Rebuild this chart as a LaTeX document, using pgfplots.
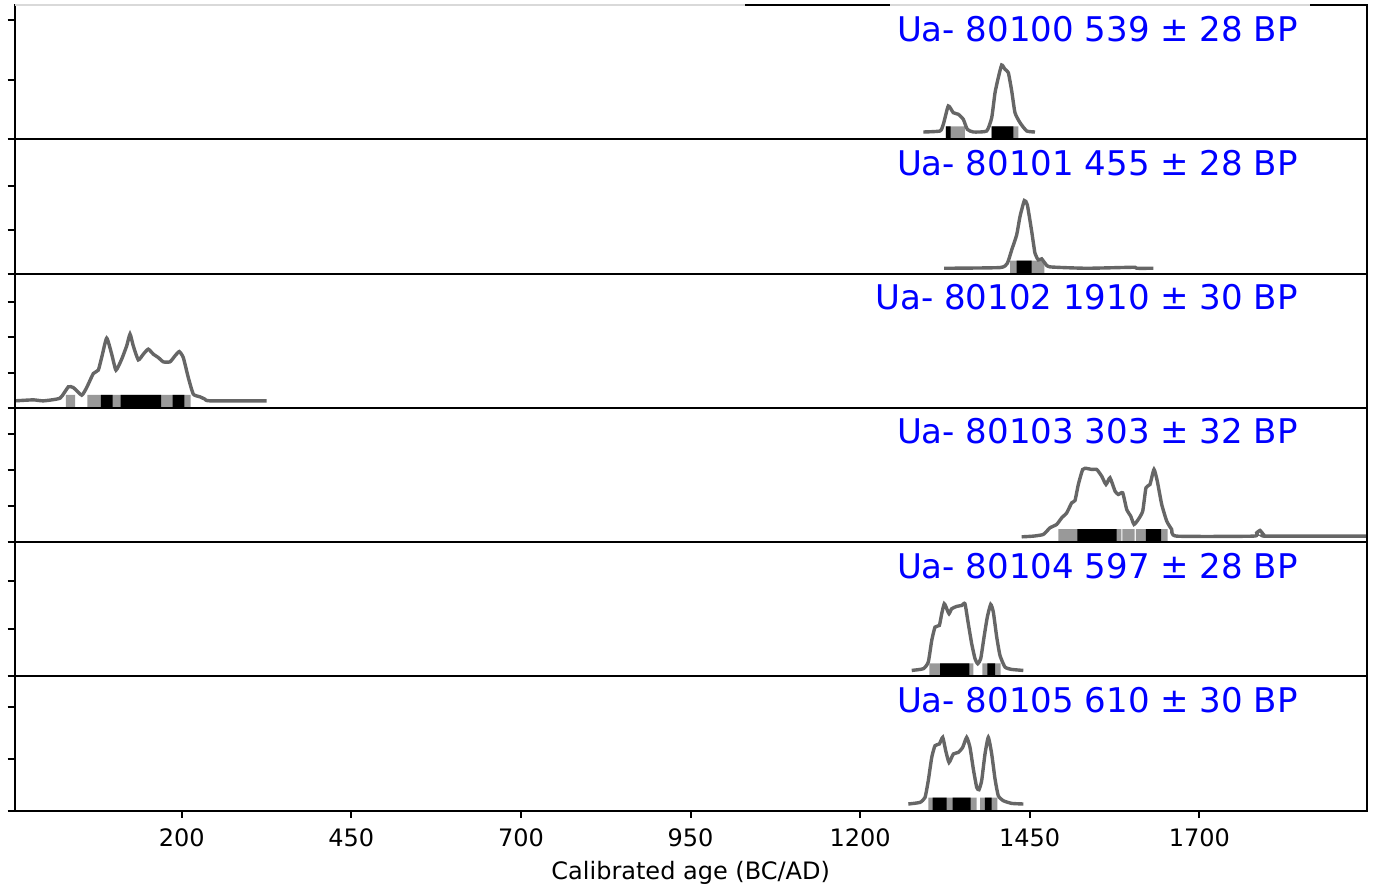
\documentclass[border=0pt]{standalone}
\usepackage{fontspec}
\setmainfont{DejaVu Sans}
\usepackage{pgfplots}
\pgfplotsset{compat=1.18}
\usepgfplotslibrary{groupplots}

\definecolor{curve}{gray}{0.4}
\definecolor{hpd}{gray}{0.6}

% heights are in px of the panel (panel = 134.3 units tall)
\pgfplotsset{
  dens/.style={color=curve, line width=1.7pt, smooth, tension=0.3},
  hpdlight/.style={const plot, fill=hpd, draw=none},
  hpddark/.style={const plot, fill=black, draw=none},
}
\tikzset{
  lab/.style={anchor=base east, inner sep=0pt, xshift=-34.3pt, yshift=-18pt, text=blue,
    font=\fontsize{17}{20}\selectfont},
}

\begin{document}
\begin{tikzpicture}
\begin{groupplot}[
  group style={group size=1 by 6, vertical sep=0pt, group name=g},
  scale only axis, width=676pt, height=67.14pt,
  xmin=-46.2, xmax=1946.8, ymin=0, ymax=134.3,
  xtick=\empty, yticklabels={},
  tick pos=left, tick align=outside, major tick length=3.5pt,
  every tick/.style={line width=1pt, black},
  axis line style={line width=1pt},
  axis on top,
  ticklabel style={font=\fontsize{12}{14}\selectfont},
  xticklabel style={yshift=-2.2pt},
  /pgf/number format/assume math mode=true,
  /pgf/number format/1000 sep={},
  label style={font=\fontsize{12}{14}\selectfont},
]

\nextgroupplot[ytick={0,59.5,119}]
\addplot[hpdlight] coordinates {(1326.6,13) (1354.6,0) (1394,13) (1433.2,0)} \closedcycle;
\addplot[hpddark] coordinates {(1326.6,13) (1333.6,0) (1394,13) (1425.8,0)} \closedcycle;
\addplot[dens] coordinates {
  (1293.2,7.3) (1317.8,8.3) (1322.7,15) (1330.0,33.3) (1337.4,26.6) (1344.8,25)
  (1352.1,20) (1358.0,10) (1366.9,7.3) (1386.6,8.3) (1394.0,21.6) (1398.9,46.6)
  (1403.7,61.6) (1408.7,74.3) (1413.6,70) (1418.5,66.6) (1423.5,48.3) (1428.3,26.6)
  (1435.7,16.6) (1445.6,8.3) (1457.8,7.3)};
\node[lab] at (rel axis cs:1,1) {Ua- 80100 539 ± 28 BP};

\nextgroupplot[ytick={0,44,88}]
\addplot[hpdlight] coordinates {(1421,13) (1471.5,0)} \closedcycle;
\addplot[hpddark] coordinates {(1430.8,13) (1453,0)} \closedcycle;
\addplot[dens] coordinates {
  (1323.7,5.3) (1406.2,6) (1417.0,10.3) (1423.5,23.7) (1430.8,38.7) (1435.7,57)
  (1442.1,73) (1446.5,68.7) (1453.0,42) (1457.8,20.3) (1462.7,13.7) (1467.7,14.7)
  (1472.6,10.3) (1479.9,6.7) (1534.0,5.3) (1602.7,6.3) (1607.7,5.3) (1632.2,5.3)};
\node[lab] at (rel axis cs:1,1) {Ua- 80101 455 ± 28 BP};

\nextgroupplot[ytick={0,35.3,70.6,105.9}]
\addplot[hpdlight] coordinates {(29.4,13) (42.7,0) (60.8,13) (213.2,0)} \closedcycle;
\addplot[hpddark] coordinates {(81,13) (98.3,0) (110.1,13) (169.5,0) (186.7,13) (203.8,0)} \closedcycle;
\addplot[dens] coordinates {
  (-45.8,7) (-18.8,8) (-4,7) (20.6,9.7) (32.8,21) (40.2,20.3) (52.6,12.7) (59.9,20.3)
  (69.7,34.3) (77,37.7) (82,50.3) (89.4,69.7) (96.8,53.7) (103.1,37.7) (111.5,48.7)
  (118.9,62) (123.8,73.7) (128.6,62) (136,48) (143.4,53.7) (150.7,58.7) (158.1,53.7)
  (165.5,50.3) (172.9,46) (182.7,46) (190.1,52) (196.4,56.3) (202.3,50.3) (209.7,30.3)
  (217.1,13.7) (227,11) (234.3,8.7) (241.7,7) (325.3,7)};
\node[lab] at (rel axis cs:1,1) {Ua- 80102 1910 ± 30 BP};

\nextgroupplot[ytick={0,36,72,108}]
\addplot[hpdlight] coordinates {(1492.2,13) (1585,0) (1586.5,13) (1604.5,0) (1606.5,13) (1653.4,0)} \closedcycle;
\addplot[hpddark] coordinates {(1520.2,13) (1578.3,0) (1621.4,13) (1643.6,0)} \closedcycle;
\addplot[dens] coordinates {
  (1438.2,5.3) (1455.3,6) (1470.1,7.7) (1479.9,14.3) (1489.8,17.7) (1497.2,24.3)
  (1504.6,29.3) (1511.9,39.3) (1516.8,41.7) (1521.7,57.7) (1528.1,72.7) (1534,73.7)
  (1541.4,72.7) (1548.8,72.7) (1556.1,66) (1562.5,57.7) (1568.4,64.3) (1575.8,51)
  (1580.6,47.7) (1587.1,49.3) (1593,32.7) (1598.9,26) (1603.8,17.7) (1610.1,22.7)
  (1616.6,31) (1621.4,54.3) (1627.3,57.7) (1633.2,72.7) (1638.1,61) (1644.6,37.7)
  (1652,21) (1659.3,12.7) (1666.7,6) (1779.6,6) (1784.6,9.3) (1789.5,11.7)
  (1795.4,7) (1799.4,6) (1946.8,6)};
\node[lab] at (rel axis cs:1,1) {Ua- 80103 303 ± 32 BP};

\nextgroupplot[ytick={0,47.5,95}]
\addplot[hpdlight] coordinates {(1302,13) (1366.9,0) (1380.1,13) (1407.3,0)} \closedcycle;
\addplot[hpddark] coordinates {(1317.8,13) (1361,0) (1387.5,13) (1398.9,0)} \closedcycle;
\addplot[dens] coordinates {
  (1276.1,6) (1293.2,7.7) (1300.5,14.3) (1305.6,36) (1310.4,49.3) (1316.8,51)
  (1320.3,62.7) (1324.1,72.7) (1327.7,67.7) (1331.1,62.7) (1335,67.7) (1342.4,70)
  (1349.8,71) (1354.6,72.7) (1359.5,52.7) (1364.5,32.7) (1369.4,17.7) (1373.4,12.7)
  (1377.8,17.7) (1382.7,39.3) (1387.5,59.3) (1392.5,72) (1396.4,64.3) (1401.4,39.3)
  (1406.2,21) (1413.6,9.3) (1423.5,7) (1440.6,6)};
\node[lab] at (rel axis cs:1,1) {Ua- 80104 597 ± 28 BP};

\nextgroupplot[ytick={0,52,104}, xtick={200,450,700,950,1200,1450,1700},
  xlabel={Calibrated age (BC/AD)}]
\addplot[hpdlight] coordinates {(1300.5,13) (1371.9,0) (1376.8,13) (1402.3,0)} \closedcycle;
\addplot[hpddark] coordinates {(1307,13) (1327.7,0) (1336.5,13) (1363,0) (1384.1,13) (1394,0)} \closedcycle;
\addplot[dens] coordinates {
  (1271.1,6.7) (1288.3,8.3) (1295.7,13.3) (1300.5,30) (1305.6,53.3) (1310.4,65)
  (1316.8,66.7) (1321.8,73.3) (1326.2,60) (1331.1,48.3) (1337.4,56.7) (1344.8,58.3)
  (1351.2,63.3) (1357.1,73.3) (1362,63.3) (1366.9,41.7) (1371.9,23.3) (1375.3,21)
  (1379.2,30) (1384.1,56.7) (1389,73.3) (1394,56.7) (1398.9,31.7) (1403.7,15)
  (1411.1,10) (1423.5,7.3) (1440.6,6.7)};
\node[lab] at (rel axis cs:1,1) {Ua- 80105 610 ± 30 BP};
\end{groupplot}

% boxes lying over the top spine of the first panel
\fill[white, opacity=0.85] ([yshift=-0.6pt]g c1r1.north west) rectangle ([xshift=365.2pt,yshift=0.6pt]g c1r1.north west);
\fill[white, opacity=0.85] ([xshift=437.6pt,yshift=-0.6pt]g c1r1.north west) rectangle ([xshift=647.6pt,yshift=0.6pt]g c1r1.north west);

\pgfresetboundingbox
\path[use as bounding box] ([xshift=-7.35pt,yshift=2.5pt]g c1r1.north west) rectangle ([xshift=4.15pt,yshift=-37.15pt]g c1r6.south east);
\end{tikzpicture}
\end{document}
